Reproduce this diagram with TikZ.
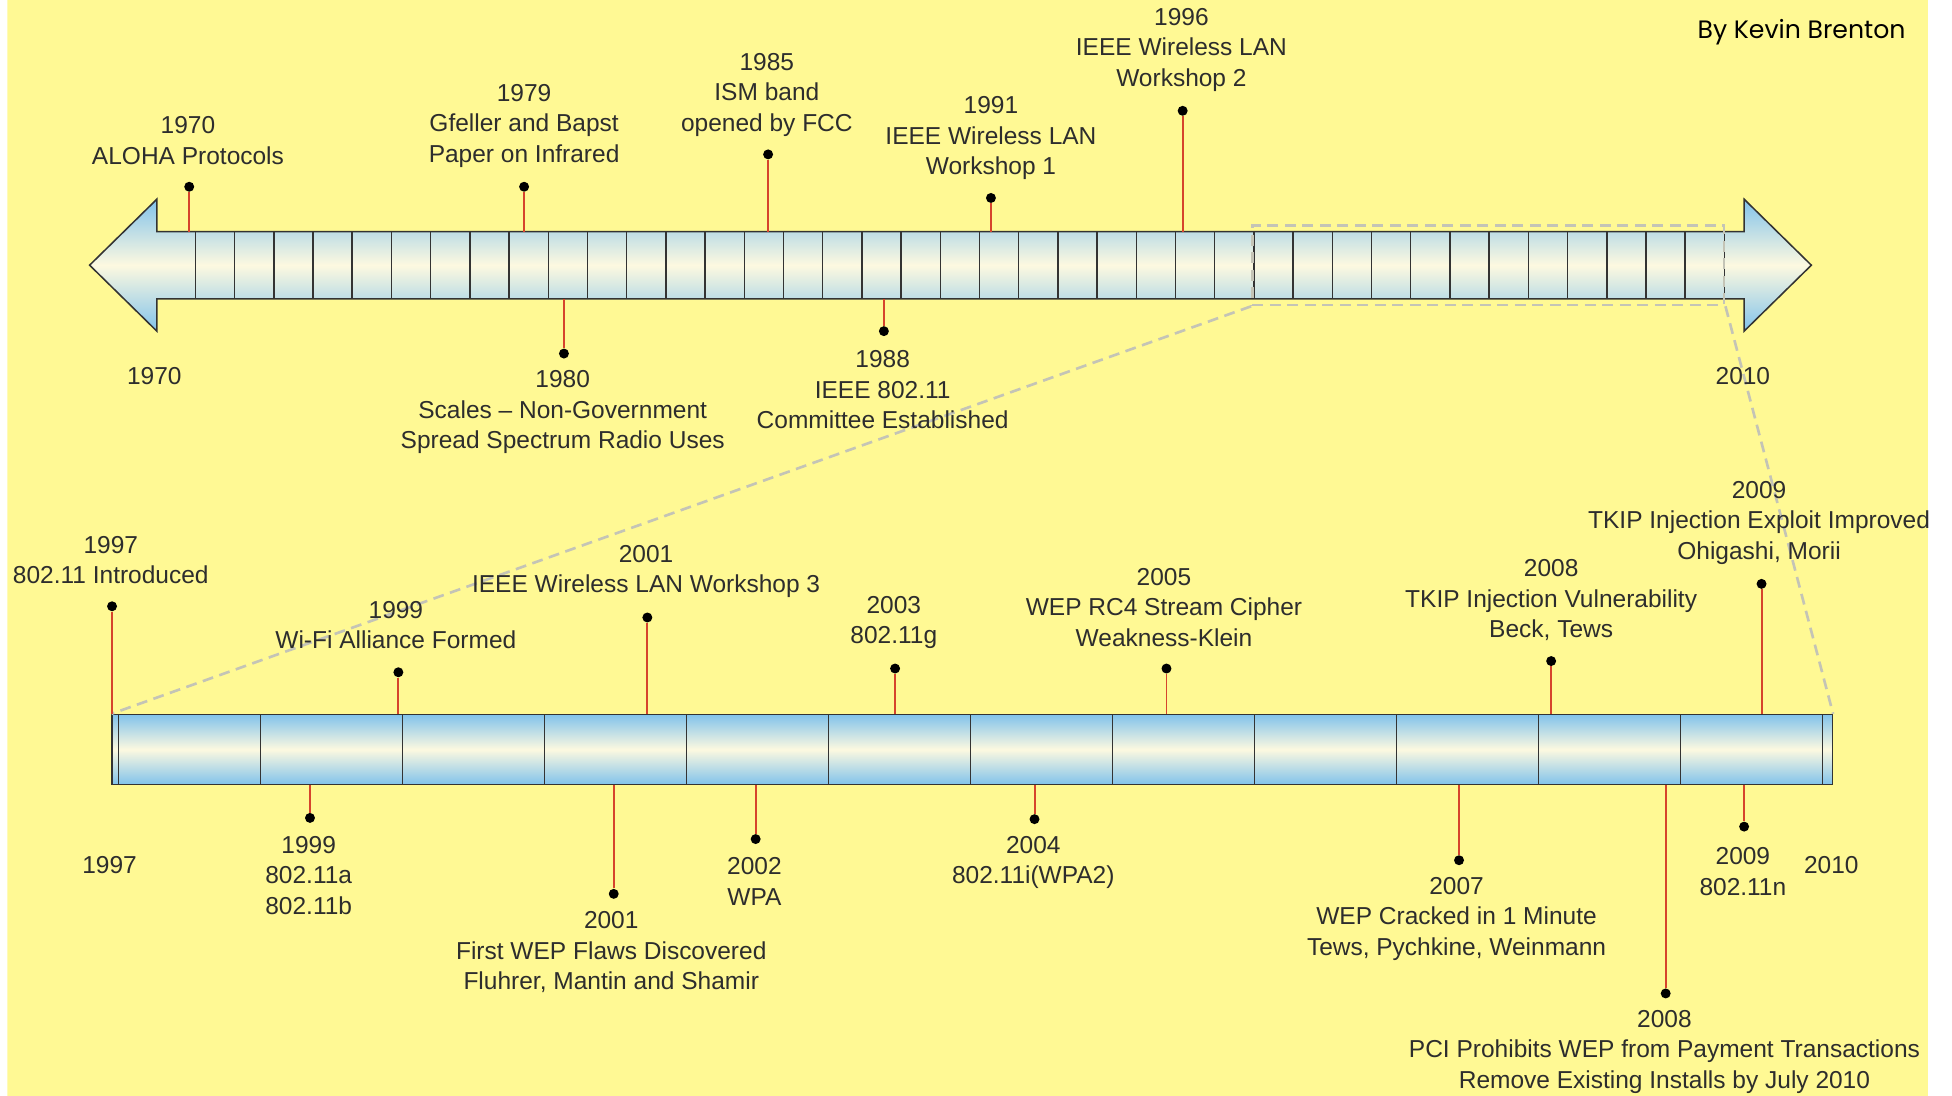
\documentclass[tikz,border=0pt]{standalone}
\usepackage{fontspec}
\setmainfont{Liberation Sans}
\newfontfamily\bylinefont{Poppins}
\usepackage{tikz}
\usetikzlibrary{positioning,calc}
\definecolor{bgyellow}{RGB}{255,249,148}
\definecolor{barblue}{RGB}{130,195,235}
\definecolor{barcream}{RGB}{253,249,224}
\definecolor{pinred}{RGB}{214,68,44}
\definecolor{txtgray}{RGB}{45,45,45}
\definecolor{zoomgray}{RGB}{196,196,182}
\tikzset{
  lbl/.style={font=\fontsize{11.2}{13.9}\selectfont, text=txtgray, align=center, inner sep=0pt},
  dot/.style={circle, fill=black, inner sep=0pt, minimum size=0.16cm},
  pin/.style={draw=pinred, line width=0.9pt},
  tick/.style={draw=black!80, line width=0.7pt},
  barfill/.style={draw=black!80, line width=0.7pt, top color=barblue, bottom color=barblue, middle color=barcream},
  zoomline/.style={draw=zoomgray, line width=1.2pt, dash pattern=on 5pt off 3pt}
}

\begin{document}
\begin{tikzpicture}[x=0.02cm, y=-0.02cm]
\useasboundingbox (0,0) rectangle (1568,880);
\begin{scope}
\clip (6,0) rectangle (1549,880);
\fill[bgyellow] (6,0) rectangle (1549,880);

% overview arrow 1970-2010
\path[barfill] (72,213) -- (126,160) -- (126,186) -- (1401,186) -- (1401,160) -- (1455,213)
  -- (1401,266) -- (1401,240) -- (126,240) -- (126,266) -- cycle;
\foreach \i in {0,...,39}
  \draw[tick] ({157+31.49*\i},186) -- ({157+31.49*\i},240);
\coordinate (shafttop) at (0,186);
\coordinate (shaftbot) at (0,240);

% detail bar 1997-2010
\node[barfill, minimum width=27.64cm, minimum height=1.12cm, inner sep=0pt] (lowbar) at (781,602) {};
\foreach \i in {0,...,12}
  \draw[tick] ({95+114.08*\i},574) -- ({95+114.08*\i},630);

% zoom window
\node[zoomline, minimum width=7.58cm, minimum height=1.28cm, inner sep=0pt] (zbox) at (1195.5,213) {};
\draw[zoomline] (zbox.south west) -- (lowbar.north west);
\draw[zoomline] (zbox.south east) -- (lowbar.north east);

% events above the arrow
\node[dot] (e70) at (152,150) {};
\draw[pin] (e70) -- (e70 |- shafttop);
\node[lbl] (t70) at (151,113) {1970\\ALOHA Protocols};
\node[dot] (e79) at (421,150) {};
\draw[pin] (e79) -- (e79 |- shafttop);
\node[lbl] (t79) at (421,101) {1979\\Gfeller and Bapst\\Paper on Infrared};
\node[dot] (e85) at (617,124) {};
\draw[pin] (e85) -- (e85 |- shafttop);
\node[lbl] (t85) at (616,76) {1985\\ISM band\\opened by FCC};
\node[dot] (e91) at (796,159) {};
\draw[pin] (e91) -- (e91 |- shafttop);
\node[lbl] (t91) at (796,111) {1991\\IEEE Wireless LAN\\Workshop 1};
\node[dot] (e96) at (950,89) {};
\draw[pin] (e96) -- (e96 |- shafttop);
\node[lbl] (t96) at (949,40) {1996\\IEEE Wireless LAN\\Workshop 2};

% events below the arrow
\node[dot] (e80) at (453,284) {};
\draw[pin] (e80) -- (e80 |- shaftbot);
\node[lbl] (t80) at (452,331) {1980\\Scales -- Non-Government\\Spread Spectrum Radio Uses};
\node[dot] (e88) at (710,266) {};
\draw[pin] (e88) -- (e88 |- shaftbot);
\node[lbl] (t88) at (709,313) {1988\\IEEE 802.11\\Committee Established};
\node[lbl] (y70) at (124,302) {1970};
\node[lbl] (y10) at (1400,302) {2010};

% events above the detail bar
\node[dot] (e97) at (90,487) {};
\draw[pin] (e97) -- (e97 |- lowbar.north);
\node[lbl] (t97) at (89,450) {1997\\802.11 Introduced};
\node[dot] (e99a) at (320,540) {};
\draw[pin] (e99a) -- (e99a |- lowbar.north);
\node[lbl] (t99a) at (318,502) {1999\\Wi-Fi Alliance Formed};
\node[dot] (e01a) at (520,496) {};
\draw[pin] (e01a) -- (e01a |- lowbar.north);
\node[lbl] (t01a) at (519,459) {2001\\IEEE Wireless LAN Workshop 3};
\node[dot] (e03) at (719,537) {};
\draw[pin] (e03) -- (e03 |- lowbar.north);
\node[lbl] (t03) at (718,500) {2003\\802.11g};
\node[dot] (e05) at (937,537) {};
\draw[pin] (e05) -- (e05 |- lowbar.north);
\node[lbl] (t05) at (935,488) {2005\\WEP RC4 Stream Cipher\\Weakness-Klein};
\node[dot] (e08a) at (1246,531) {};
\draw[pin] (e08a) -- (e08a |- lowbar.north);
\node[lbl] (t08a) at (1246,482) {2008\\TKIP Injection Vulnerability\\Beck, Tews};
\node[dot] (e09a) at (1415,469) {};
\draw[pin] (e09a) -- (e09a |- lowbar.north);
\node[lbl] (t09a) at (1413,420) {2009\\TKIP Injection Exploit Improved\\Ohigashi, Morii};

% events below the detail bar
\node[dot] (e99b) at (249,657) {};
\draw[pin] (e99b) -- (e99b |- lowbar.south);
\node[lbl] (t99b) at (248,703) {1999\\802.11a\\802.11b};
\node[dot] (e01b) at (493,718) {};
\draw[pin] (e01b) -- (e01b |- lowbar.south);
\node[lbl] (t01b) at (491,765) {2001\\First WEP Flaws Discovered\\Fluhrer, Mantin and Shamir};
\node[dot] (e02) at (607,674) {};
\draw[pin] (e02) -- (e02 |- lowbar.south);
\node[lbl] (t02) at (606,708) {2002\\WPA};
\node[dot] (e04) at (831,658) {};
\draw[pin] (e04) -- (e04 |- lowbar.south);
\node[lbl] (t04) at (830,693) {2004\\802.11i(WPA2)};
\node[dot] (e07) at (1172,691) {};
\draw[pin] (e07) -- (e07 |- lowbar.south);
\node[lbl] (t07) at (1170,738) {2007\\WEP Cracked in 1 Minute\\Tews, Pychkine, Weinmann};
\node[dot] (e08b) at (1338,798) {};
\draw[pin] (e08b) -- (e08b |- lowbar.south);
\node[lbl] (t08b) at (1337,845) {2008\\PCI Prohibits WEP from Payment Transactions\\Remove Existing Installs by July 2010};
\node[dot] (e09b) at (1401,664) {};
\draw[pin] (e09b) -- (e09b |- lowbar.south);
\node[lbl] (t09b) at (1400,700) {2009\\802.11n};
\node[lbl] (y97) at (88,695) {1997};
\node[lbl] (y2010) at (1471,695) {2010};

\node[font=\bylinefont\fontsize{11.5}{14}\selectfont, anchor=east, inner sep=0pt] (byline) at (1531,26) {By Kevin Brenton};
\end{scope}
\end{tikzpicture}
\end{document}
